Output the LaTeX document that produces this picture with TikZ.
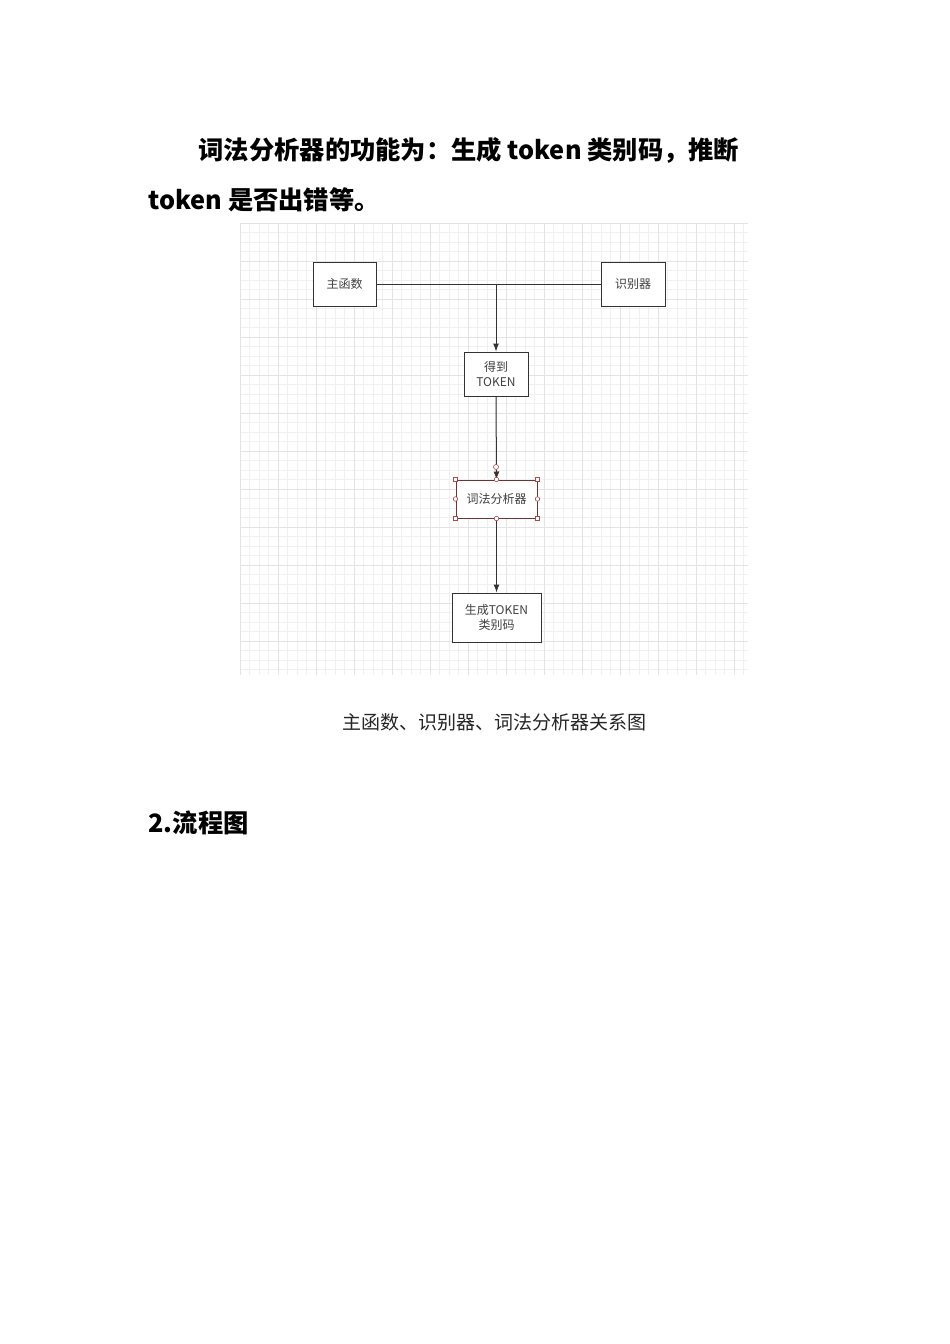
\documentclass[tikz,border=0pt]{standalone}
\usepackage{fontspec}
\setmainfont{Noto Sans CJK SC}
\usetikzlibrary{arrows.meta}
\begin{document}
\begin{tikzpicture}[x=1pt,y=-1pt,
  box/.style={draw=black!80,line width=1pt,fill=white,align=center,inner sep=0pt,font=\fontsize{12}{15}\selectfont,text=black!75},
  arr/.style={draw=black!80,line width=1pt,-{Latex[length=8pt,width=6pt]}},
  hsq/.style={draw=red!50!black!70,fill=white,line width=0.6pt,minimum size=4pt,inner sep=0pt,rectangle},
  hci/.style={draw=red!50!black!70,fill=white,line width=0.6pt,minimum size=4.5pt,inner sep=0pt,circle},
  ttl/.style={font=\fontsize{25.3}{30}\bfseries\selectfont}]
\useasboundingbox[fill=white] (0,0) rectangle (950,1344);
% grid
\foreach \i in {0,...,53} \draw[black!6,line width=0.4pt] (240+\i*9.5,223) -- (240+\i*9.5,675);
\foreach \i in {0,...,47} \draw[black!6,line width=0.4pt] (240,223+\i*9.5) -- (748,223+\i*9.5);
\foreach \i in {0,...,13} \draw[black!11,line width=0.5pt] (240+\i*38,223) -- (240+\i*38,675);
\foreach \i in {0,...,11} \draw[black!11,line width=0.5pt] (240,223+\i*38) -- (748,223+\i*38);
% title
\node[anchor=base west,ttl] (t1) at (195,159) {词法分析器的功能为：生成 token 类别码，推断};
\node[anchor=base west,ttl] (t2) at (145,209) {token 是否出错等。};
% boxes
\node[box,minimum width=63pt,minimum height=44pt] (main) at (344.5,284) {主函数};
\node[box,minimum width=64pt,minimum height=44pt] (rec) at (633,284) {识别器};
\node[box,minimum width=64pt,minimum height=44pt] (get) at (496,374) {得到\\TOKEN};
\node[box,draw=black!70!red!80,minimum width=81pt,minimum height=38pt] (lex) at (496.5,499) {词法分析器};
\node[box,minimum width=89pt,minimum height=49pt] (gen) at (496.5,617.5) {生成TOKEN\\类别码};
\coordinate (j) at (496,284);
\draw[draw=black!80,line width=1pt] (main.east) -- (rec.west);
\draw[arr] (j) -- (get.north);
\draw[arr] (get.south) -- (lex.north);
\draw[arr] (lex.south) -- (gen.north);
% selection handles
\foreach \a in {north west,north east,south west,south east} \node[hsq] (hs-\a) at (lex.\a) {};
\foreach \a in {north,south,east,west} \node[hci] (hc-\a) at (lex.\a) {};
\node[hci,minimum size=5pt] (hc-top) at (496,467) {};
% caption
\node[font=\fontsize{19}{22}\selectfont,text=black!85] (cap) at (494,722) {主函数、识别器、词法分析器关系图};
\node[anchor=base west,ttl] (h2) at (145,832) {2.流程图};
\end{tikzpicture}
\end{document}
